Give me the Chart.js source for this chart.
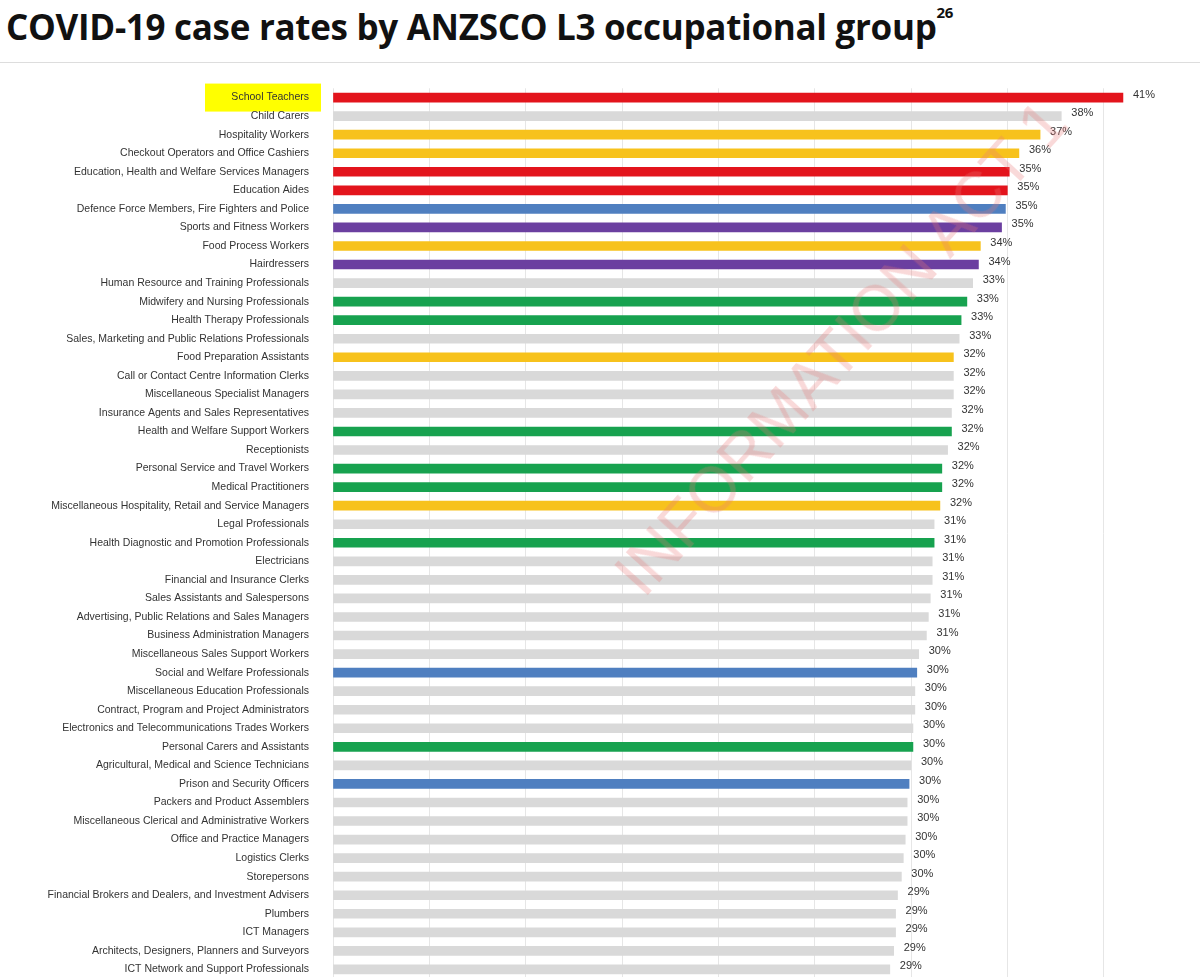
<!DOCTYPE html>
<html><head><meta charset="utf-8">
<script src="https://cdn.jsdelivr.net/npm/chart.js@4"></script>
<style>
body{margin:0;background:#fff;width:1200px;height:977px;overflow:hidden;position:relative;font-family:"Open Sans","DejaVu Sans",sans-serif}
#title{position:absolute;left:6px;top:2px;font-size:35px;font-weight:bold;color:#111;letter-spacing:-0.3px;white-space:nowrap}
#title sup{font-size:15px;vertical-align:22px}
#wrap{position:absolute;left:0;top:66px;width:1200px;height:935px}
#wm{position:absolute;left:600px;top:560px;font-size:64px;color:rgba(235,120,120,0.28);transform:rotate(-48deg);transform-origin:left top;white-space:nowrap;font-family:"Liberation Sans",sans-serif;pointer-events:none}
#line{position:absolute;left:0;top:62px;width:1200px;height:1px;background:#ddd}
</style></head><body>
<div id="title">COVID-19 case rates by ANZSCO L3 occupational group<sup>26</sup></div>
<div id="line"></div>
<div id="wrap"><canvas id="c"></canvas></div>
<div id="wm">INFORMATION ACT 1</div>
<script>
const categories=["School Teachers","Child Carers","Hospitality Workers","Checkout Operators and Office Cashiers","Education, Health and Welfare Services Managers","Education Aides","Defence Force Members, Fire Fighters and Police","Sports and Fitness Workers","Food Process Workers","Hairdressers","Human Resource and Training Professionals","Midwifery and Nursing Professionals","Health Therapy Professionals","Sales, Marketing and Public Relations Professionals","Food Preparation Assistants","Call or Contact Centre Information Clerks","Miscellaneous Specialist Managers","Insurance Agents and Sales Representatives","Health and Welfare Support Workers","Receptionists","Personal Service and Travel Workers","Medical Practitioners","Miscellaneous Hospitality, Retail and Service Managers","Legal Professionals","Health Diagnostic and Promotion Professionals","Electricians","Financial and Insurance Clerks","Sales Assistants and Salespersons","Advertising, Public Relations and Sales Managers","Business Administration Managers","Miscellaneous Sales Support Workers","Social and Welfare Professionals","Miscellaneous Education Professionals","Contract, Program and Project Administrators","Electronics and Telecommunications Trades Workers","Personal Carers and Assistants","Agricultural, Medical and Science Technicians","Prison and Security Officers","Packers and Product Assemblers","Miscellaneous Clerical and Administrative Workers","Office and Practice Managers","Logistics Clerks","Storepersons","Financial Brokers and Dealers, and Investment Advisers","Plumbers","ICT Managers","Architects, Designers, Planners and Surveyors","ICT Network and Support Professionals"];
const values=[41.0,37.8,36.7,35.6,35.1,35.0,34.9,34.7,33.6,33.5,33.2,32.9,32.6,32.5,32.2,32.2,32.2,32.1,32.1,31.9,31.6,31.6,31.5,31.2,31.2,31.1,31.1,31.0,30.9,30.8,30.4,30.3,30.2,30.2,30.1,30.1,30.0,29.9,29.8,29.8,29.7,29.6,29.5,29.3,29.2,29.2,29.1,28.9];
const groups=["r","g","y","y","r","r","b","p","y","p","g","n","n","g","y","g","g","g","n","g","n","n","y","g","n","g","g","g","g","g","g","b","g","g","g","n","g","b","g","g","g","g","g","g","g","g","g","g"];
const palette={r:"#e3141c",g:"#d9d9d9",y:"#f7c21c",b:"#4f7fc0",p:"#6b3fa0",n:"#17a24f"};
const labelPlugin={id:"vals",afterDatasetsDraw(ch){const {ctx}=ch;const meta=ch.getDatasetMeta(0);ctx.save();ctx.font="11px 'Liberation Sans Narrow','Liberation Sans',sans-serif";ctx.fillStyle="#333";ctx.textBaseline="middle";meta.data.forEach((b,i)=>{ctx.fillText(Math.round(values[i])+"%",b.x+10,b.y-3);});ctx.restore();}};
const hl={id:"hl",beforeDraw(ch){const s=ch.scales.y;const y=s.getPixelForValue(0);const c=ch.ctx;c.save();c.fillStyle="#ffff00";c.fillRect(205,y-14,116,28);c.restore();}};
new Chart(document.getElementById("c"),{type:"bar",data:{labels:categories,datasets:[{data:values,backgroundColor:groups.map(g=>palette[g]),barThickness:9,categoryPercentage:1,barPercentage:1}]},
options:{indexAxis:"y",responsive:true,maintainAspectRatio:false,animation:false,layout:{padding:0},
plugins:{legend:{display:false},tooltip:{enabled:false}},
scales:{x:{min:0,max:45,display:true,ticks:{display:false,stepSize:5},grid:{color:"#e6e6e6",drawTicks:false},border:{display:false}},
y:{afterFit(s){s.width=333;},grid:{display:false},border:{display:false},ticks:{autoSkip:false,color:"#333",padding:16,font:{size:10.5,family:"'Liberation Sans Narrow','Liberation Sans',sans-serif"}}}}},
plugins:[labelPlugin,hl]});
</script></body></html>
